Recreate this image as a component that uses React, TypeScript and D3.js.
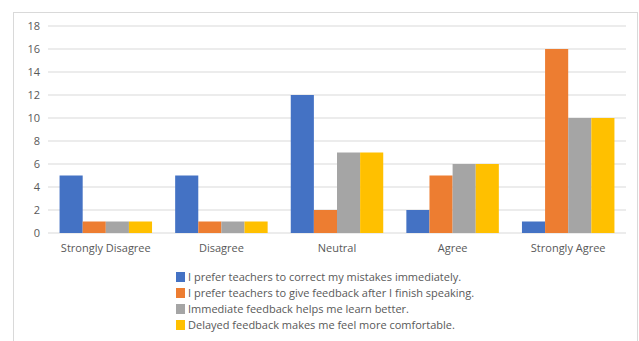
import React from "react";
import * as d3 from "d3";

const categories = ["Strongly Disagree", "Disagree", "Neutral", "Agree", "Strongly Agree"];
const seriesNames = [
  "I prefer teachers to correct my mistakes immediately.",
  "I prefer teachers to give feedback after I finish speaking.",
  "Immediate feedback helps me learn better.",
  "Delayed feedback makes me feel more comfortable.",
];
const seriesColors = ["#4472C4", "#ED7D31", "#A5A5A5", "#FFC000"];
const s1 = [5, 5, 12, 2, 1];
const s2 = [1, 1, 2, 5, 16];
const s3 = [1, 1, 7, 6, 10];
const s4 = [1, 1, 7, 6, 10];
const yTicks = [0, 2, 4, 6, 8, 10, 12, 14, 16, 18];

const W = 639;
const H = 341;
const FONT = "'Open Sans', sans-serif";

export default function App() {
  const series = [s1, s2, s3, s4];
  const x0 = d3.scaleBand<string>().domain(categories).range([48, 626]).paddingInner(0.2).paddingOuter(0.1);
  const x1 = d3.scaleBand<number>().domain([0, 1, 2, 3]).range([0, x0.bandwidth()]);
  const y = d3.scaleLinear().domain([0, 18]).range([233, 26]);

  return (
    <svg width={W} height={H} style={{ position: "absolute", left: 0, top: 0, background: "#fff" }}>
      <rect x={0} y={0} width={W} height={H} fill="#fff" />
      <rect x={13.5} y={12.5} width={624} height={340} fill="#fff" stroke="#D9D9D9" />
      {yTicks.map((t) => (
        <g key={t}>
          <line x1={48} x2={626} y1={y(t)} y2={y(t)} stroke="#D9D9D9" strokeWidth={1.2} />
          <text x={40} y={y(t)} dy="0.35em" textAnchor="end" fontSize={11} fill="#595959" fontFamily={FONT}>
            {t}
          </text>
        </g>
      ))}
      {categories.map((c, ci) => (
        <g key={c} transform={`translate(${x0(c)},0)`}>
          {series.map((s, si) => (
            <rect
              key={si}
              x={x1(si)}
              y={y(s[ci])}
              width={x1.bandwidth()}
              height={y(0) - y(s[ci])}
              fill={seriesColors[si]}
            />
          ))}
          <text
            x={x0.bandwidth() / 2}
            y={248}
            dy="0.35em"
            textAnchor="middle"
            fontSize={11}
            fill="#595959"
            fontFamily={FONT}
          >
            {c}
          </text>
        </g>
      ))}
      {seriesNames.map((n, i) => (
        <g key={n} transform={`translate(176,${277 + i * 16})`}>
          <rect x={0} y={-5} width={9} height={10} fill={seriesColors[i]} />
          <text x={12} y={0} dy="0.35em" fontSize={11} fill="#595959" fontFamily={FONT}>
            {n}
          </text>
        </g>
      ))}
    </svg>
  );
}
